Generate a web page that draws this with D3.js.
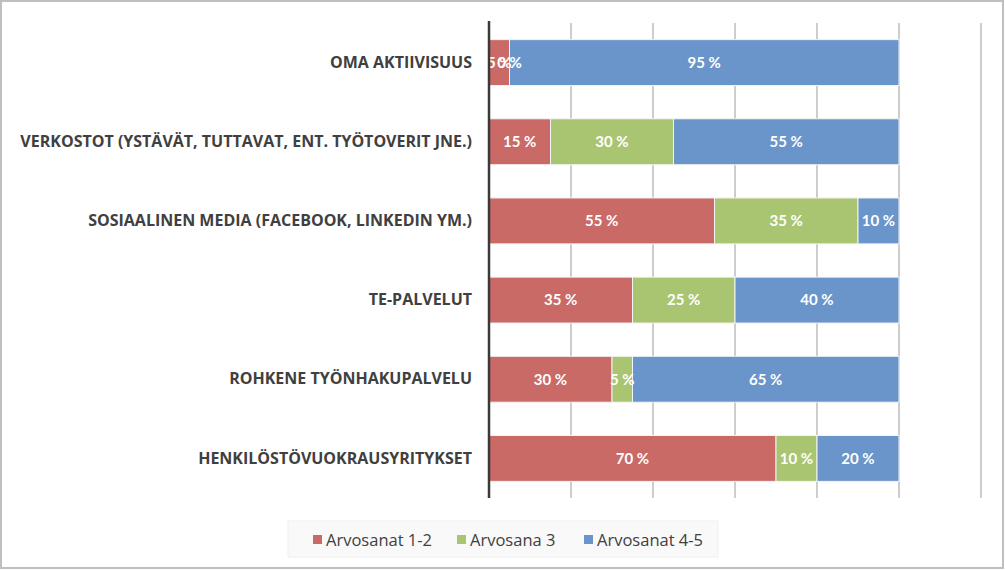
<!DOCTYPE html>
<html><head><meta charset="utf-8">
<script src="https://cdn.jsdelivr.net/npm/d3@7"></script>
<style>
html,body{margin:0;padding:0;background:#fff;}
svg{display:block;}
</style></head>
<body>
<svg id="c" width="1005" height="570"></svg>
<script>
const categories = ["OMA AKTIIVISUUS","VERKOSTOT (YSTÄVÄT, TUTTAVAT, ENT. TYÖTOVERIT JNE.)","SOSIAALINEN MEDIA (FACEBOOK, LINKEDIN YM.)","TE-PALVELUT","ROHKENE TYÖNHAKUPALVELU","HENKILÖSTÖVUOKRAUSYRITYKSET"];
const seriesNames = ["Arvosanat 1-2","Arvosana 3","Arvosanat 4-5"];
const grade12 = [5,15,55,35,30,70];
const grade3 = [0,30,35,25,5,10];
const grade45 = [95,55,10,40,65,20];
const colors = ["#C96A67","#AAC572","#6A95CA"];
const xTicks = [0,20,40,60,80,100,120];

const svg = d3.select("#c");
svg.append("rect").attr("x",1).attr("y",1).attr("width",1002).attr("height",567)
  .attr("fill","#fff").attr("stroke","#bfbfbf").attr("stroke-width",2);

const x = d3.scaleLinear().domain([0,120]).range([489,981]);
const y = d3.scaleBand().domain(categories).range([23,498]).paddingInner(0.42).paddingOuter(0.21);

svg.append("g").selectAll("line").data(xTicks.slice(1)).join("line")
  .attr("x1",d=>x(d)).attr("x2",d=>x(d)).attr("y1",23).attr("y2",498)
  .attr("stroke","#bdbdbd").attr("stroke-width",1.5);

const stackData = categories.map((c,i)=>({cat:c, s0:grade12[i], s1:grade3[i], s2:grade45[i]}));
const stack = d3.stack().keys(["s0","s1","s2"])(stackData);

const gBars = svg.append("g");
stack.forEach((layer,k)=>{
  gBars.append("g").selectAll("rect").data(layer).join("rect")
    .attr("x",d=>x(d[0])).attr("width",d=>x(d[1])-x(d[0]))
    .attr("y",d=>y(d.data.cat)).attr("height",y.bandwidth())
    .attr("fill",colors[k]).attr("stroke","#f4f4f4").attr("stroke-width",1);
});
stack.forEach((layer,k)=>{
  svg.append("g").selectAll("text").data(layer).join("text")
    .attr("x",d=>(x(d[0])+x(d[1]))/2).attr("y",d=>y(d.data.cat)+y.bandwidth()/2)
    .attr("dy","0.36em").attr("text-anchor","middle")
    .attr("font-family","Lato, 'Open Sans', sans-serif").attr("font-weight","bold")
    .attr("font-size",15).attr("fill","#fff")
    .text(d=>(d[1]-d[0])+" %");
});

svg.append("line").attr("x1",x(0)).attr("x2",x(0)).attr("y1",21).attr("y2",498)
  .attr("stroke","#3a3a3a").attr("stroke-width",2.5);

const yAxis = d3.axisLeft(y).tickSize(0).tickPadding(17);
const ga = svg.append("g").attr("transform",`translate(${x(0)},0)`).call(yAxis);
ga.select(".domain").remove();
ga.selectAll("text").attr("font-family","'Open Sans', sans-serif").attr("font-weight","bold")
  .attr("font-size",16).attr("fill","#404040");

const lg = svg.append("g");
lg.append("rect").attr("x",288).attr("y",521).attr("width",430).attr("height",36)
  .attr("fill","#f9f9f9").attr("stroke","#f0f0f0");
const legX = [313,457,584];
seriesNames.forEach((n,i)=>{
  lg.append("rect").attr("x",legX[i]).attr("y",535).attr("width",9).attr("height",9).attr("fill",colors[i]);
  lg.append("text").attr("x",legX[i]+13).attr("y",540).attr("dy","0.36em")
    .attr("font-family","'Open Sans', sans-serif").attr("font-size",16.5).attr("fill","#404040").text(n);
});
</script>
</body></html>
